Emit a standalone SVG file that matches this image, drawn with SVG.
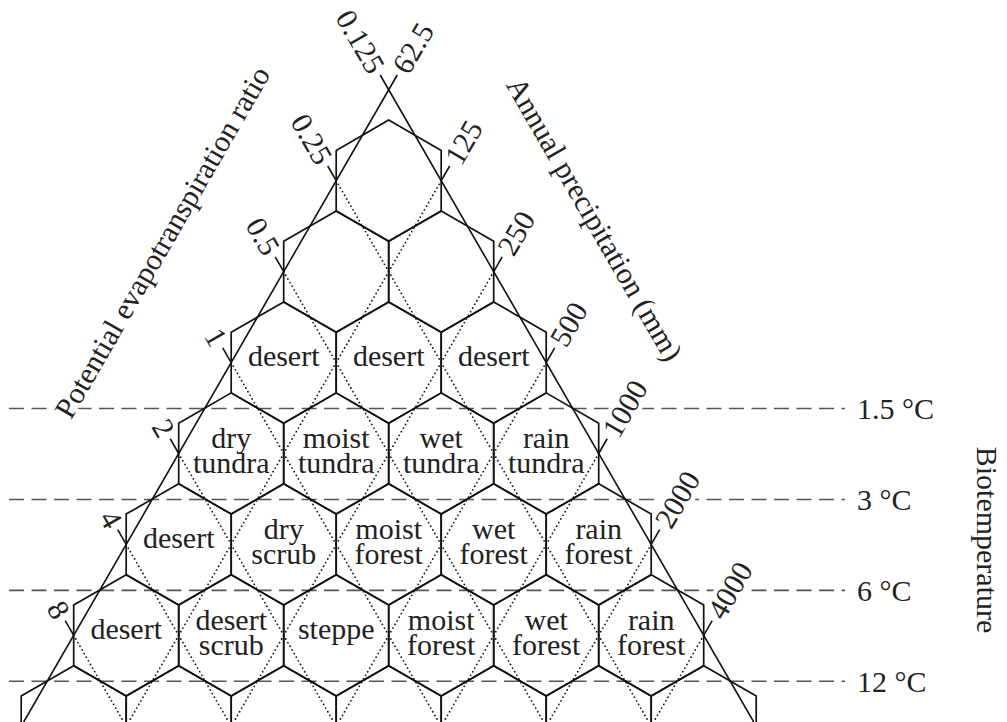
<svg xmlns="http://www.w3.org/2000/svg" xmlns:xlink="http://www.w3.org/1999/xlink" width="1007" height="722" viewBox="0 0 1007 722">
  <style>
    text { font-family: "Liberation Serif", "Times New Roman", serif; font-size: 30px; fill: #222; }
    .zone { text-anchor: middle; }
    .hexline { fill: none; stroke: #111; stroke-width: 1.7; stroke-linejoin: miter; }
    .axis { stroke: #111; stroke-width: 1.6; fill: none; }
    .tick { stroke: #111; stroke-width: 1.6; }
    .grid { stroke: #111; stroke-width: 1.8; stroke-dasharray: 0 4.2; stroke-linecap: round; fill: none; }
    .temp { stroke: #555; stroke-width: 1.6; stroke-dasharray: 15 7.5; fill: none; }
    .halo { paint-order: stroke fill; stroke: #fff; stroke-width: 9; stroke-linejoin: round; }
    .lt { text-anchor: end; }
    .rt { text-anchor: start; }
  </style>
  <defs>
    <polygon id="hex" class="hexline" points="0,-60.62 52.5,-30.31 52.5,30.31 0,60.62 -52.5,30.31 -52.5,-30.31"/>
  </defs>

  <rect width="1007" height="722" fill="#fff"/>

  <!-- biotemperature belts -->
  <g id="temperature-lines">
    <line class="temp" x1="9" y1="408.5" x2="845" y2="408.5"/>
    <line class="temp" x1="9" y1="499.5" x2="845" y2="499.5"/>
    <line class="temp" x1="9" y1="590.4" x2="845" y2="590.4"/>
    <line class="temp" x1="9" y1="681.3" x2="845" y2="681.3"/>
  </g>

  <!-- axis scale labels -->
  <g id="pet-scale">
    <text class="lt halo" transform="translate(377.7,70.7) rotate(60)" dy="0.35em">0.125</text>
    <text class="lt halo" transform="translate(325.2,161.65) rotate(60)" dy="0.35em">0.25</text>
    <text class="lt halo" transform="translate(272.7,252.58) rotate(60)" dy="0.35em">0.5</text>
    <text class="lt halo" transform="translate(220.2,343.51) rotate(60)" dy="0.35em">1</text>
    <text class="lt halo" transform="translate(167.7,434.44) rotate(60)" dy="0.35em">2</text>
    <text class="lt halo" transform="translate(115.2,525.37) rotate(60)" dy="0.35em">4</text>
    <text class="lt halo" transform="translate(62.7,616.3) rotate(60)" dy="0.35em">8</text>
  </g>
  <g id="precipitation-scale">
    <text class="rt halo" transform="translate(399.7,70.7) rotate(-60)" dy="0.35em">62.5</text>
    <text class="rt halo" transform="translate(452.2,161.65) rotate(-60)" dy="0.35em">125</text>
    <text class="rt halo" transform="translate(504.7,252.58) rotate(-60)" dy="0.35em">250</text>
    <text class="rt halo" transform="translate(557.2,343.51) rotate(-60)" dy="0.35em">500</text>
    <text class="rt halo" transform="translate(609.7,434.44) rotate(-60)" dy="0.35em">1000</text>
    <text class="rt halo" transform="translate(662.2,525.37) rotate(-60)" dy="0.35em">2000</text>
    <text class="rt halo" transform="translate(714.7,616.3) rotate(-60)" dy="0.35em">4000</text>
  </g>

  <!-- axis titles -->
  <g id="titles">
    <text class="zone halo" transform="translate(162,242) rotate(-60)" dy="0.35em">Potential evapotranspiration ratio</text>
    <text class="zone halo" transform="translate(595,219) rotate(60)" dy="0.35em">Annual precipitation (mm)</text>
    <text class="zone" transform="translate(987,540) rotate(90)" dy="0.35em">Biotemperature</text>
  </g>

  <g id="temperature-labels">
    <text x="857" y="419">1.5 °C</text>
    <text x="857" y="510">3 °C</text>
    <text x="857" y="601">6 °C</text>
    <text x="857" y="692">12 °C</text>
  </g>

  <!-- connectors: triangle sides, log grid lines and ticks -->
  <g id="connectors">
    <line class="axis" x1="397.23" y1="75" x2="23.68" y2="722"/>
    <line class="axis" x1="380.17" y1="75" x2="753.72" y2="722"/>

    <line class="grid" x1="336.2" y1="180.7" x2="648.73" y2="722"/>
    <line class="grid" x1="283.7" y1="271.63" x2="543.72" y2="722"/>
    <line class="grid" x1="231.2" y1="362.56" x2="438.72" y2="722"/>
    <line class="grid" x1="178.7" y1="453.49" x2="333.73" y2="722"/>
    <line class="grid" x1="126.2" y1="544.42" x2="228.73" y2="722"/>
    <line class="grid" x1="73.7" y1="635.35" x2="123.73" y2="722"/>

    <line class="grid" x1="441.2" y1="180.7" x2="128.67" y2="722"/>
    <line class="grid" x1="493.7" y1="271.63" x2="233.68" y2="722"/>
    <line class="grid" x1="546.2" y1="362.56" x2="338.68" y2="722"/>
    <line class="grid" x1="598.7" y1="453.49" x2="443.67" y2="722"/>
    <line class="grid" x1="651.2" y1="544.42" x2="548.67" y2="722"/>
    <line class="grid" x1="703.7" y1="635.35" x2="653.67" y2="722"/>

    <line class="tick" x1="336.2" y1="180.7" x2="327.7" y2="165.98"/>
    <line class="tick" x1="283.7" y1="271.63" x2="275.2" y2="256.91"/>
    <line class="tick" x1="231.2" y1="362.56" x2="222.7" y2="347.84"/>
    <line class="tick" x1="178.7" y1="453.49" x2="170.2" y2="438.77"/>
    <line class="tick" x1="126.2" y1="544.42" x2="117.7" y2="529.7"/>
    <line class="tick" x1="73.7" y1="635.35" x2="65.2" y2="620.63"/>

    <line class="tick" x1="441.2" y1="180.7" x2="449.7" y2="165.98"/>
    <line class="tick" x1="493.7" y1="271.63" x2="502.2" y2="256.91"/>
    <line class="tick" x1="546.2" y1="362.56" x2="554.7" y2="347.84"/>
    <line class="tick" x1="598.7" y1="453.49" x2="607.2" y2="438.77"/>
    <line class="tick" x1="651.2" y1="544.42" x2="659.7" y2="529.7"/>
    <line class="tick" x1="703.7" y1="635.35" x2="712.2" y2="620.63"/>
  </g>

  <!-- life zone hexagons -->
  <g id="hex-0-0"><use href="#hex" x="388.7" y="180.7"/></g>

  <g id="hex-1-0"><use href="#hex" x="336.2" y="271.63"/></g>
  <g id="hex-1-1"><use href="#hex" x="441.2" y="271.63"/></g>

  <g id="hex-2-0"><use href="#hex" x="283.7" y="362.56"/><text class="zone" x="283.7" y="366">desert</text></g>
  <g id="hex-2-1"><use href="#hex" x="388.7" y="362.56"/><text class="zone" x="388.7" y="366">desert</text></g>
  <g id="hex-2-2"><use href="#hex" x="493.7" y="362.56"/><text class="zone" x="493.7" y="366">desert</text></g>

  <g id="hex-3-0"><use href="#hex" x="231.2" y="453.49"/><text class="zone" x="231.2" y="447.5">dry</text><text class="zone" x="231.2" y="473">tundra</text></g>
  <g id="hex-3-1"><use href="#hex" x="336.2" y="453.49"/><text class="zone" x="336.2" y="447.5">moist</text><text class="zone" x="336.2" y="473">tundra</text></g>
  <g id="hex-3-2"><use href="#hex" x="441.2" y="453.49"/><text class="zone" x="441.2" y="447.5">wet</text><text class="zone" x="441.2" y="473">tundra</text></g>
  <g id="hex-3-3"><use href="#hex" x="546.2" y="453.49"/><text class="zone" x="546.2" y="447.5">rain</text><text class="zone" x="546.2" y="473">tundra</text></g>

  <g id="hex-4-0"><use href="#hex" x="178.7" y="544.42"/><text class="zone" x="178.7" y="548">desert</text></g>
  <g id="hex-4-1"><use href="#hex" x="283.7" y="544.42"/><text class="zone" x="283.7" y="538.5">dry</text><text class="zone" x="283.7" y="564">scrub</text></g>
  <g id="hex-4-2"><use href="#hex" x="388.7" y="544.42"/><text class="zone" x="388.7" y="538.5">moist</text><text class="zone" x="388.7" y="564">forest</text></g>
  <g id="hex-4-3"><use href="#hex" x="493.7" y="544.42"/><text class="zone" x="493.7" y="538.5">wet</text><text class="zone" x="493.7" y="564">forest</text></g>
  <g id="hex-4-4"><use href="#hex" x="598.7" y="544.42"/><text class="zone" x="598.7" y="538.5">rain</text><text class="zone" x="598.7" y="564">forest</text></g>

  <g id="hex-5-0"><use href="#hex" x="126.2" y="635.35"/><text class="zone" x="126.2" y="639">desert</text></g>
  <g id="hex-5-1"><use href="#hex" x="231.2" y="635.35"/><text class="zone" x="231.2" y="629.5">desert</text><text class="zone" x="231.2" y="655">scrub</text></g>
  <g id="hex-5-2"><use href="#hex" x="336.2" y="635.35"/><text class="zone" x="336.2" y="639">steppe</text></g>
  <g id="hex-5-3"><use href="#hex" x="441.2" y="635.35"/><text class="zone" x="441.2" y="629.5">moist</text><text class="zone" x="441.2" y="655">forest</text></g>
  <g id="hex-5-4"><use href="#hex" x="546.2" y="635.35"/><text class="zone" x="546.2" y="629.5">wet</text><text class="zone" x="546.2" y="655">forest</text></g>
  <g id="hex-5-5"><use href="#hex" x="651.2" y="635.35"/><text class="zone" x="651.2" y="629.5">rain</text><text class="zone" x="651.2" y="655">forest</text></g>

  <g id="hex-6-0"><use href="#hex" x="73.7" y="726.28"/></g>
  <g id="hex-6-1"><use href="#hex" x="178.7" y="726.28"/></g>
  <g id="hex-6-2"><use href="#hex" x="283.7" y="726.28"/></g>
  <g id="hex-6-3"><use href="#hex" x="388.7" y="726.28"/></g>
  <g id="hex-6-4"><use href="#hex" x="493.7" y="726.28"/></g>
  <g id="hex-6-5"><use href="#hex" x="598.7" y="726.28"/></g>
  <g id="hex-6-6"><use href="#hex" x="703.7" y="726.28"/></g>
</svg>
